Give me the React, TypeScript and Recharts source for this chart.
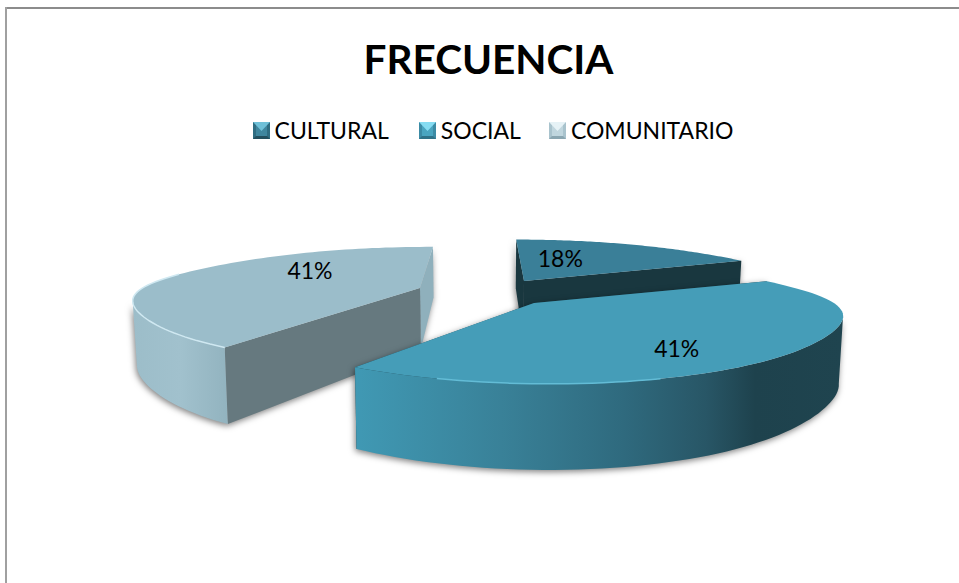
import { PieChart, Pie, Legend } from 'recharts';

const TITLE = 'FRECUENCIA';

// legend order, as in the original
const categories = ['CULTURAL', 'SOCIAL', 'COMUNITARIO'];
const percentages = [18, 41, 41];

// the slices are painted back to front, so the table starts at COMUNITARIO
const drawOrder = [2, 0, 1];
const tableData = drawOrder.map((i) => ({ name: categories[i], value: percentages[i] }));
const START_TURN = (percentages[0] + percentages[1]) * 3.6;

const FONT = 'Lato, "Open Sans", sans-serif';

// perspective of the fake 3D disc
const VANISH_X = 485;
const PERSPECTIVE_X = 0.25;
const PERSPECTIVE_Y = 0.29;
const FLATTEN = 0.203;
const wallDepth = (y: number) => 50 + (y - 245) * 0.26;

interface SliceStyle {
  dx: number;
  dy: number;
  scale: number;
  top: string;
  rim: string;
  rimCos: number;
  cut: string;
  backCut: string;
  wall: [number, string][];
  labelR: number;
  labelDy: number;
}

const sliceStyles: Record<string, SliceStyle> = {
  CULTURAL: {
    dx: 44,
    dy: -10,
    scale: 0.94,
    top: '#3a7f98',
    rim: '#3a7f98',
    rimCos: -2,
    cut: '#19373f',
    backCut: '#19373f',
    wall: [[0, '#19373f'], [1, '#19373f']],
    labelR: 0.29,
    labelDy: -11,
  },
  SOCIAL: {
    dx: 54,
    dy: 12,
    scale: 1.01,
    top: '#459db8',
    rim: '#63bcd6',
    rimCos: -0.95,
    cut: '#1f444f',
    backCut: '#1f444f',
    wall: [
      [0, '#4099b4'],
      [0.3, '#398198'],
      [0.55, '#2f6a7e'],
      [0.72, '#285666'],
      [0.82, '#1e424d'],
      [1, '#1f444f'],
    ],
    labelR: 0.64,
    labelDy: 13,
  },
  COMUNITARIO: {
    dx: -60,
    dy: -3,
    scale: 0.935,
    top: '#9bbdca',
    rim: '#cfe8f1',
    rimCos: 0.3,
    cut: '#66797f',
    backCut: '#8fb0bc',
    wall: [
      [0, '#9cbdc9'],
      [0.5, '#a1c1cd'],
      [1, '#92b3bf'],
    ],
    labelR: 0.46,
    labelDy: -11,
  },
};

const legendIcons: Record<string, string[]> = {
  // top, sides, bottom, centre
  CULTURAL: ['#6fc0d8', '#2f6d82', '#234f5e', '#3f869e'],
  SOCIAL: ['#86dcf2', '#3c8ba5', '#2f7288', '#4aa5c0'],
  COMUNITARIO: ['#e6f2f6', '#a9c3cd', '#8aa6b1', '#c0d6de'],
};
const legendGaps = [0, 30, 28];

const toRad = (deg: number) => (deg * Math.PI) / 180;

// turn = degrees clockwise from 12 o'clock, r = 0..1 out from the slice tip
function project(cx: number, cy: number, R: number, s: SliceStyle, turn: number, r = 1) {
  const ux = Math.sin(toRad(turn));
  const uy = Math.cos(toRad(turn));
  const px = 1 / (1 + PERSPECTIVE_X * uy * r);
  const py = 1 / (1 + PERSPECTIVE_Y * uy * r);
  const ax = cx + s.dx;
  const ay = cy + s.dy;
  // the rim bulges a little at the far left and right
  const bulge = 1 + 0.06 * Math.pow(ux * r, 8);
  return {
    x: ax + R * s.scale * r * ux * px * bulge + (VANISH_X - ax) * (1 - px),
    y: ay - R * FLATTEN * s.scale * r * uy * py,
  };
}

const down = (pt: { x: number; y: number }) => ({
  x: pt.x - (pt.x - VANISH_X) * 0.012,
  y: pt.y + wallDepth(pt.y),
});

const toPath = (pts: { x: number; y: number }[], close = true) =>
  pts.map((p, i) => `${i ? 'L' : 'M'}${p.x.toFixed(1)} ${p.y.toFixed(1)}`).join('') + (close ? 'Z' : '');

function Slice3D(props: any) {
  const { cx, cy, outerRadius, startAngle, endAngle, name } = props;
  const label = name ?? props.payload?.name;
  const s = sliceStyles[label];
  const t0 = 90 - startAngle;
  const t1 = 90 - endAngle;
  const cosAt = (i: number) => Math.cos(toRad(t0 + ((t1 - t0) * i) / 80));
  const rim = [];
  for (let i = 0; i <= 80; i++) rim.push(project(cx, cy, outerRadius, s, t0 + ((t1 - t0) * i) / 80));
  const tip = project(cx, cy, outerRadius, s, t0, 0);
  const first = rim[0];
  const last = rim[rim.length - 1];

  // only the stretch of rim running right to left faces the viewer
  const front = rim.filter((p, i) => {
    const next = rim[i + 1] ?? p;
    const prev = rim[i - 1] ?? p;
    return cosAt(i) < 0.5 && (next.x < p.x || p.x < prev.x);
  });
  const shine = rim.filter((_, i) => cosAt(i) < s.rimCos);
  const gradId = `wall-${label}`;

  return (
    <g>
      <defs>
        <linearGradient id={gradId} x1="0" x2="1" y1="0" y2="0">
          {s.wall.map(([o, c]) => (
            <stop key={o} offset={o} stopColor={c} />
          ))}
        </linearGradient>
      </defs>
      <g style={{ filter: 'drop-shadow(-1px 2px 3px rgba(0,0,0,0.5))' }}>
        <path d={toPath([last, down(last), down(tip), tip])} fill={s.backCut} />
        <path d={toPath([first, down(first), down(tip), tip])} fill={s.cut} />
        {front.length > 1 && (
          <path d={toPath([...front, ...front.map(down).reverse()])} fill={`url(#${gradId})`} />
        )}
      </g>
      <path d={toPath([tip, ...rim])} fill={s.top} />
      {shine.length > 1 && <path d={toPath(shine, false)} fill="none" stroke={s.rim} strokeWidth={1.5} />}
    </g>
  );
}

function SliceLabel(props: any) {
  const { cx, cy, outerRadius, midAngle, payload, value } = props;
  const s = sliceStyles[payload?.name ?? props.name];
  const pt = project(cx, cy, outerRadius, s, 90 - midAngle, s.labelR);
  return (
    <text
      x={pt.x}
      y={pt.y + s.labelDy}
      textAnchor="middle"
      dominantBaseline="central"
      fontFamily={FONT}
      fontSize={23}
      fill="#000"
    >
      {`${value}%`}
    </text>
  );
}

function LegendIcon({ colors }: { colors: string[] }) {
  const [top, side, bottom, centre] = colors;
  return (
    <svg width={17} height={17} style={{ display: 'block' }}>
      <rect width={17} height={17} fill={side} />
      <polygon points="0,17 17,17 13,13 4,13" fill={bottom} />
      <polygon points="3,3 14,3 14,14 3,14" fill={centre} />
      <polygon points="0,0 17,0 8.5,9" fill={top} />
    </svg>
  );
}

function LegendRow() {
  return (
    <div
      style={{
        display: 'flex',
        justifyContent: 'center',
        alignItems: 'center',
        fontFamily: FONT,
        fontSize: 23,
        color: '#000',
      }}
    >
      {categories.map((c, i) => (
        <div key={c} style={{ display: 'flex', alignItems: 'center', marginLeft: legendGaps[i] }}>
          <LegendIcon colors={legendIcons[c]} />
          <span style={{ marginLeft: 5 }}>{c}</span>
        </div>
      ))}
    </div>
  );
}

export default function App() {
  return (
    <div
      style={{
        position: 'absolute',
        left: 0,
        top: 0,
        width: 959,
        height: 583,
        background: '#fff',
        overflow: 'hidden',
      }}
    >
      <div style={{ position: 'absolute', left: 5, top: 7, right: 0, height: 2, background: '#8c8c8c' }} />
      <div style={{ position: 'absolute', left: 5, top: 7, bottom: 0, width: 2, background: '#a0a0a0' }} />
      <div
        style={{
          position: 'absolute',
          left: 0,
          width: 977,
          top: 34,
          textAlign: 'center',
          fontFamily: FONT,
          fontWeight: 700,
          fontSize: 40.5,
          lineHeight: '50px',
          color: '#000',
        }}
      >
        {TITLE}
      </div>
      <PieChart
        width={959}
        height={583}
        margin={{ top: 0, right: 0, bottom: 0, left: 0 }}
        style={{ position: 'absolute', left: 0, top: 0 }}
      >
        <Legend
          content={<LegendRow />}
          wrapperStyle={{ position: 'absolute', left: 0, top: 116, width: 986, height: 32 }}
        />
        <Pie
          data={tableData}
          dataKey="value"
          nameKey="name"
          cx={480}
          cy={291}
          outerRadius={280}
          startAngle={90 - START_TURN}
          endAngle={90 - START_TURN - 360}
          shape={Slice3D}
          label={SliceLabel}
          labelLine={false}
          stroke="none"
          isAnimationActive={false}
        />
      </PieChart>
    </div>
  );
}
